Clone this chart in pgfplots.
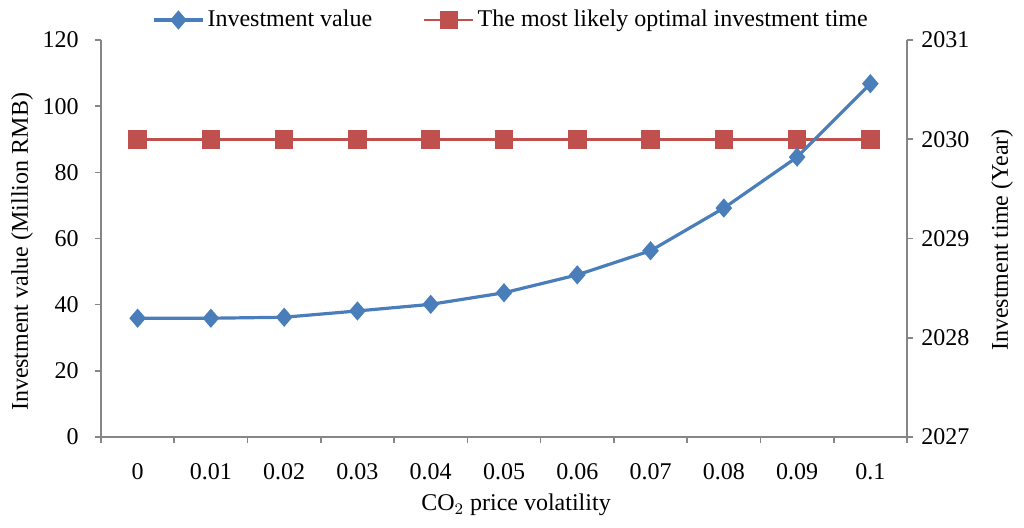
\documentclass[border=0pt,12pt]{standalone}
\usepackage{pgfplots}
\pgfplotsset{compat=1.18}
\usepackage{fontspec}
\setmainfont{Liberation Serif}
\definecolor{ablue}{RGB}{74,126,187}
\definecolor{ared}{RGB}{192,80,77}
\definecolor{agray}{RGB}{134,134,134}
\pgfplotsset{
  common/.style={
    at={(50.5pt,45pt)}, anchor=south west,
    scale only axis, width=403pt, height=198.5pt,
    xmin=-0.5, xmax=10.5,
    /pgf/number format/assume math mode=true,
    axis line style={agray, line width=0.8pt, -},
    tick style={agray, line width=0.8pt},
    tick align=outside,
    major tick length=3pt, minor tick length=3pt,
    ticklabel style={black},
  },
  legend image code/.code={
    \draw[#1, mark repeat=2, mark phase=2] plot coordinates {(0pt,0pt) (12.25pt,0pt) (24.5pt,0pt)};
  },
}
\begin{document}
\begin{tikzpicture}
\useasboundingbox (0,0) rectangle (512pt,263.5pt);
% right axis: most likely optimal investment time
\begin{axis}[common,
  ymin=2027, ymax=2031, ytick={2027,2028,2029,2030,2031},
  yticklabel style={/pgf/number format/1000 sep={}},
  axis y line*=right, hide x axis,
]
\addplot[ared, line width=1.3pt, mark=square*, mark size=4pt, mark options={solid, fill=ared, draw=ared}]
  coordinates {(0,2030) (1,2030) (2,2030) (3,2030) (4,2030) (5,2030) (6,2030) (7,2030) (8,2030) (9,2030) (10,2030)};
\end{axis}
% left axis: investment value
\begin{axis}[common,
  ymin=0, ymax=120, ytick={0,20,40,60,80,100,120},
  axis x line*=bottom, axis y line*=left,
  xtick={0,1,2,3,4,5,6,7,8,9,10},
  xticklabels={0,0.01,0.02,0.03,0.04,0.05,0.06,0.07,0.08,0.09,0.1},
  major x tick style={draw=none},
  minor xtick={-0.5,0.5,1.5,2.5,3.5,4.5,5.5,6.5,7.5,8.5,9.5,10.5},
  xticklabel style={yshift=-6pt},
  yticklabel style={xshift=-4pt},
  legend columns=2,
  legend style={at={(axis description cs:0.5,1)}, anchor=center, xshift=3.75pt, yshift=10pt,
    draw=none, fill=none, font=\normalsize, nodes={inner xsep=1.5pt},
    /tikz/every even column/.append style={column sep=24pt}},
  legend cell align=left,
]
\addplot[ablue, line width=1.6pt, mark=diamond*, mark size=3.6pt, mark options={solid, fill=ablue, draw=ablue, xscale=1.15}]
  coordinates {(0,35.9) (1,35.9) (2,36.2) (3,38.1) (4,40.1) (5,43.6) (6,49.0) (7,56.3) (8,69.2) (9,84.6) (10,106.8)};
\addlegendentry{Investment value}
\addlegendimage{ared, line width=1.3pt, mark=square*, mark size=4pt, mark options={solid, fill=ared, draw=ared}}
\addlegendentry{The most likely optimal investment time}
\end{axis}
\node at (258pt,11pt) {CO$_2$ price volatility};
\node[rotate=90] at (11pt,137.5pt) {Investment value (Million RMB)};
\node[rotate=90] at (501pt,143.5pt) {Investment time (Year)};
\end{tikzpicture}
\end{document}
